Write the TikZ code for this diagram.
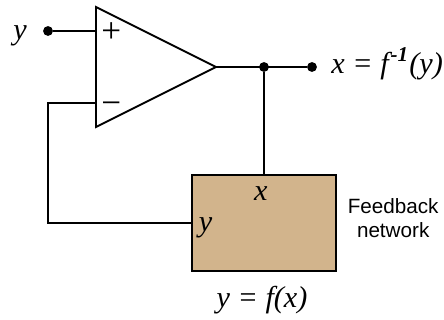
\documentclass[tikz,border=0pt]{standalone}
\usepackage{fontspec}
\setmainfont{Liberation Serif}
\newfontfamily\labelfont{Liberation Sans}
\definecolor{boxtan}{HTML}{D2B48C}
\newcommand{\supnum}{\kern.06em\raisebox{.42em}{\fontsize{15}{15}\selectfont\bfseries -1}\kern.04em}
\tikzset{
  wire/.style={line width=1.4pt},
  dotmark/.style={circle,fill=black,inner sep=0pt,minimum size=7pt},
  varlabel/.style={inner sep=0pt,anchor=base,font=\fontsize{21.5}{21.5}\selectfont\itshape},
  signlabel/.style={inner sep=0pt,font=\fontsize{25}{25}\selectfont}
}
\begin{document}
\begin{tikzpicture}[x=1cm,y=1cm]
  \useasboundingbox (0,0) rectangle (11.1,8);
  \coordinate (tl) at (2.4,7.825);
  \coordinate (bl) at (2.4,4.825);
  \coordinate (tip) at (5.4,6.325);
  \coordinate (inplus) at (2.4,7.225);
  \coordinate (inminus) at (2.4,5.425);
  \node[draw,wire,fill=boxtan,inner sep=0pt,minimum width=3.6cm,minimum height=2.4cm] (fbbox) at (6.6,2.425) {};
  \node[dotmark] (ydot) at (1.2,7.225) {};
  \node[dotmark] (junc) at (6.6,6.325) {};
  \node[dotmark] (xdot) at (7.8,6.325) {};
  \coordinate (boxtop) at (fbbox.north);
  \coordinate (boxleft) at (fbbox.west);
  \draw[wire,line join=miter] (tl)--(tip)--(bl)--cycle;
  \draw[wire] (ydot)--(inplus);
  \draw[wire] (tip)--(xdot);
  \draw[wire] (junc)--(boxtop);
  \draw[wire] (inminus)-|(1.2,2.425)--(boxleft);
  \node[signlabel] (plus) at (2.78,7.175) {+};
  \node[signlabel] (minus) at (2.78,5.3) {\textminus};
  \node[varlabel] (ylab) at (.5,7.02) {y};
  \node[varlabel,anchor=base west] (xeq) at (8.28,6.15) {x = f\supnum(y)};
  \node[varlabel] (xin) at (6.52,2.98) {x};
  \node[varlabel] (yin) at (5.14,2.22) {y};
  \node[varlabel] (yeq) at (6.55,.3) {y = f(x)};
  \node[font=\labelfont\fontsize{14.7}{17.2}\selectfont,align=center,inner sep=0pt] (fblab) at (9.83,2.55) {Feedback\\network};
\end{tikzpicture}
\end{document}
